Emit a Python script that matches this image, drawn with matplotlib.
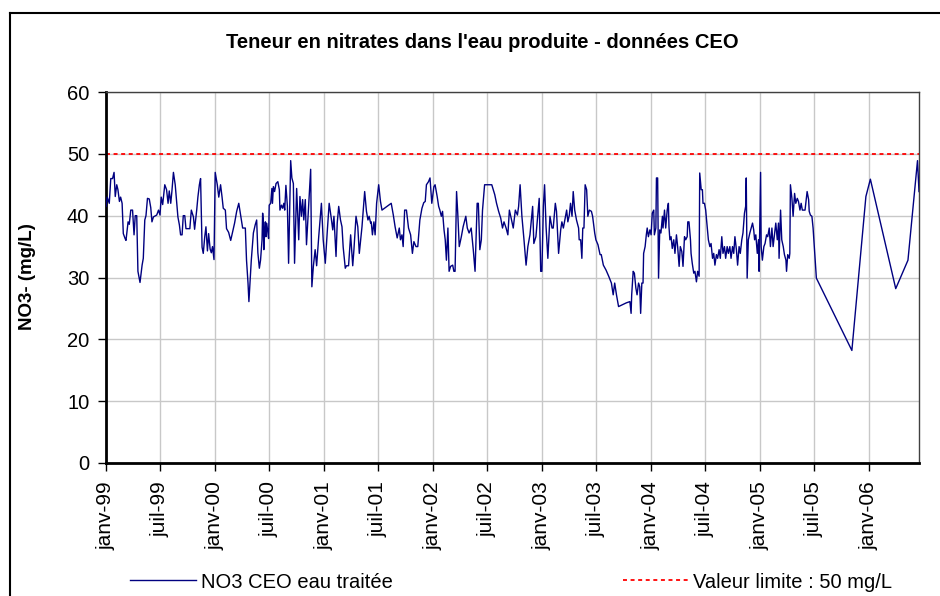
import datetime as dt
import matplotlib
matplotlib.use("Agg")
import matplotlib.pyplot as plt
import matplotlib.dates as mdates
from matplotlib.lines import Line2D

plt.rcParams['font.family'] = ['Liberation Sans', 'DejaVu Sans']

# Données : jours depuis le 1er janvier 1999 et teneur en nitrates (mg/L)
debut = dt.date(1999, 1, 1)

jours_1999 = [0, 4, 11, 16, 22, 27, 31, 36, 40, 45, 49, 54, 58, 64, 67, 74, 78, 83, 89, 94,
              98, 103, 107, 114, 121, 125, 130, 134, 139, 145, 150, 154, 159, 170, 176, 181,
              185, 190, 197, 203, 208, 212, 217, 221, 226, 232, 237, 241, 246, 250, 255, 259,
              264, 268, 281, 286, 293, 297, 304, 308, 313, 317, 322, 326, 331, 335, 340, 344,
              349, 353, 357, 362]
no3_1999 = [41.5, 43, 42, 46, 46, 47, 43.1, 45, 44.2, 42.3, 43, 42, 37.1, 36.3, 36, 39, 38.6,
            40.9, 40.9, 36.9, 40, 40, 31, 29.2, 32, 33.1, 39.3, 40, 42.8, 42.7, 41.3, 39, 39.8,
            40.1, 40.9, 40.1, 43, 41.8, 45, 44.2, 42, 44, 42, 44, 47, 45, 42, 39.8, 38.5, 36.9,
            36.9, 40, 40, 37.9, 37.9, 40.9, 39.8, 37.8, 40.9, 43, 45, 46, 34.9, 33.9, 36.6,
            38.2, 34.3, 37.1, 34.6, 34, 35, 32.9]

jours_2000 = [366, 373, 378, 384, 389, 393, 400, 404, 411, 418, 431, 438, 445, 451, 458, 467,
              471, 476, 479, 487, 494, 500, 505, 509, 514, 518, 523, 525, 527, 529, 532, 534,
              536, 538, 541, 545, 547, 552, 556, 558, 561, 565, 570, 576, 581, 583, 588, 592,
              596, 599, 603, 608, 612, 619, 623, 628, 632, 639, 646, 650, 655, 659, 663, 668,
              672, 679, 686, 690, 695, 701, 706, 713, 722]
no3_2000 = [47, 45, 43, 45, 43, 41.2, 40.9, 37.9, 37.3, 36.0, 38.8, 40.7, 42.0, 40.1, 38.0,
            38.0, 32.8, 29.1, 26.1, 32.8, 37.2, 38.5, 39.3, 34.0, 31.5, 32.8, 36.1, 40.4, 39.3,
            34.5, 37.7, 39.0, 36.6, 38.8, 37.9, 36.3, 41.7, 42.0, 44.4, 42.0, 44.7, 43.9, 45.2,
            45.5, 44.2, 40.9, 41.7, 41.2, 42.0, 40.9, 44.9, 41.5, 32.3, 48.9, 46.1, 45.2, 32.3,
            44.4, 36.1, 43.1, 39.9, 42.6, 39.3, 42.6, 35.3, 41.5, 47.5, 28.5, 31.8, 34.5, 31.9,
            36.6, 42.0]

jours_2001 = [728, 735, 742, 748, 755, 760, 764, 771, 775, 780, 786, 791, 795, 802, 806, 813,
              820, 827, 831, 838, 844, 849, 858, 867, 873, 878, 882, 887, 889, 893, 898, 902,
              907, 914, 920, 925, 956, 963, 969, 976, 983, 987, 992, 996, 1001, 1007, 1014,
              1021, 1027, 1032, 1039, 1045, 1052, 1059, 1065, 1070, 1074, 1081]
no3_2001 = [36.1, 32.3, 37.7, 42.0, 39.6, 37.7, 39.9, 33.4, 38.8, 41.5, 39.3, 38.2, 34.9, 31.5,
            31.9, 31.9, 36.9, 31.9, 34.5, 39.9, 38.2, 33.9, 38.2, 43.9, 40.7, 39.3, 39.9, 38.8,
            39.0, 36.9, 39.0, 36.9, 42.0, 45.0, 42.3, 40.9, 42.0, 40.1, 38.2, 36.4, 38.0, 36.1,
            36.9, 35.0, 40.9, 40.9, 38.0, 36.9, 33.9, 35.8, 35.0, 35.0, 39.3, 41.2, 42.1, 42.3,
            45.0, 45.5]

jours_2002 = [1086, 1092, 1099, 1103, 1110, 1115, 1119, 1124, 1128, 1133, 1137, 1141, 1146,
              1150, 1155, 1162, 1166, 1170, 1175, 1179, 1184, 1191, 1197, 1206, 1211, 1217,
              1224, 1231, 1237, 1244, 1248, 1253, 1258, 1262, 1269, 1293, 1303, 1309, 1316,
              1323, 1329, 1334, 1341, 1347, 1352, 1358, 1365, 1372, 1379, 1383, 1388, 1394,
              1401, 1408, 1414, 1421, 1430, 1434, 1441]
no3_2002 = [46.1, 42.0, 44.7, 45.0, 43.1, 41.5, 40.9, 39.9, 40.7, 37.7, 36.1, 32.8, 38.0, 31.0,
            31.8, 32.0, 31.0, 31.0, 43.9, 40.4, 35.0, 36.6, 38.2, 39.9, 38.0, 37.2, 38.0, 34.5,
            31.0, 42.0, 42.0, 34.5, 36.1, 40.9, 45.0, 45.0, 43.4, 42.0, 40.7, 39.6, 38.0, 39.0,
            38.0, 36.9, 40.9, 39.6, 38.0, 40.9, 40.1, 41.5, 45.0, 39.9, 36.1, 32.0, 35.0, 36.9,
            41.5, 35.5, 36.6]

jours_2003 = [1452, 1457, 1461, 1466, 1470, 1475, 1481, 1488, 1495, 1499, 1506, 1510, 1517,
              1524, 1528, 1533, 1539, 1544, 1548, 1553, 1557, 1562, 1566, 1571, 1577, 1584,
              1586, 1591, 1595, 1598, 1602, 1606, 1611, 1615, 1620, 1627, 1631, 1638, 1642,
              1649, 1656, 1660, 1667, 1676, 1685, 1694, 1700, 1705, 1711, 1718, 1744, 1756,
              1760, 1762, 1767, 1771, 1776, 1780, 1785, 1789, 1792, 1796, 1800, 1802, 1807]
no3_2003 = [42.8, 31.0, 31.0, 41.5, 45.0, 38.2, 33.1, 39.9, 38.0, 38.0, 42.0, 40.7, 33.9, 37.7,
            39.0, 38.0, 39.6, 40.9, 39.0, 40.1, 42.0, 39.9, 43.9, 40.9, 39.3, 38.0, 36.1, 36.1,
            33.1, 38.0, 38.0, 45.0, 44.2, 39.9, 40.9, 40.7, 39.9, 37.2, 36.1, 35.3, 33.7, 33.7,
            32.0, 31.2, 30.2, 29.1, 27.2, 29.1, 27.2, 25.3, 25.9, 26.1, 24.2, 27.2, 31.0, 30.7,
            28.3, 27.2, 29.1, 28.5, 24.2, 29.1, 29.1, 33.9, 35.0]

jours_2004 = [1811, 1814, 1818, 1823, 1827, 1831, 1836, 1838, 1843, 1845, 1849, 1852, 1856,
              1860, 1865, 1867, 1872, 1876, 1881, 1885, 1887, 1890, 1894, 1898, 1903, 1907,
              1912, 1916, 1921, 1925, 1930, 1934, 1939, 1943, 1948, 1950, 1954, 1959, 1961,
              1965, 1970, 1974, 1979, 1983, 1988, 1990, 1995, 1999, 2001, 2006, 2010, 2015,
              2019, 2024, 2028, 2033, 2037, 2041, 2046, 2050, 2055, 2059, 2064, 2068, 2073,
              2077, 2082, 2086, 2091, 2095, 2100, 2104, 2108, 2113, 2117, 2122, 2126, 2131,
              2135, 2140, 2144, 2146, 2149, 2153, 2158]
no3_2004 = [36.9, 38.0, 36.6, 37.7, 36.9, 40.4, 40.9, 36.9, 38.0, 46.1, 46.1, 29.9, 37.7, 37.2,
            39.9, 38.0, 40.9, 38.0, 40.9, 42.0, 38.2, 36.1, 36.6, 34.7, 36.1, 33.9, 36.9, 35.0,
            31.8, 35.0, 34.2, 31.8, 36.6, 36.1, 36.6, 39.0, 39.0, 36.1, 33.9, 32.3, 30.7, 31.0,
            29.3, 31.0, 30.2, 46.9, 44.2, 44.2, 42.0, 42.0, 40.9, 38.2, 36.1, 35.0, 35.5, 33.1,
            33.9, 32.0, 33.7, 33.1, 34.5, 33.1, 36.6, 33.9, 35.0, 33.1, 35.0, 33.9, 35.0, 33.1,
            35.0, 33.9, 36.6, 34.5, 32.0, 35.0, 33.9, 36.1, 37.2, 40.4, 41.5, 46.1, 29.9, 36.1,
            37.2]

jours_2005 = [2167, 2171, 2174, 2178, 2183, 2187, 2189, 2194, 2196, 2200, 2205, 2209, 2214,
              2218, 2223, 2227, 2232, 2236, 2241, 2245, 2250, 2254, 2256, 2261, 2265, 2270,
              2274, 2279, 2281, 2285, 2290, 2292, 2294, 2299, 2303, 2308, 2312, 2317, 2321,
              2326, 2330, 2334, 2343, 2350, 2355, 2357, 2361, 2366, 2370, 2381, 2500]
no3_2005 = [38.8, 37.7, 36.1, 36.9, 33.9, 36.1, 31.0, 47.0, 35.0, 32.8, 35.0, 35.5, 36.9, 36.6,
            38.0, 35.0, 38.0, 35.0, 37.2, 38.8, 36.1, 38.8, 33.1, 40.9, 36.1, 35.0, 33.7, 32.8,
            31.0, 33.7, 33.1, 33.9, 45.0, 42.8, 39.9, 43.6, 42.0, 42.8, 42.3, 40.9, 42.0, 40.9,
            40.9, 43.9, 42.6, 40.7, 40.1, 39.9, 38.0, 29.9, 18.2]

jours_2006 = [2547, 2562, 2647, 2688, 2720, 2725]
no3_2006 = [43.1, 45.9, 28.2, 32.8, 48.9, 43.9]

valeur_limite = 50
mois_fr = {1: 'janv', 7: 'juil'}

jours = (jours_1999 + jours_2000 + jours_2001 + jours_2002 + jours_2003 + jours_2004
         + jours_2005 + jours_2006)
no3 = no3_1999 + no3_2000 + no3_2001 + no3_2002 + no3_2003 + no3_2004 + no3_2005 + no3_2006
dates = [debut + dt.timedelta(days=j) for j in jours]

fig = plt.figure(figsize=(9.4, 5.96), dpi=100)
ax = fig.add_axes([106 / 940, 1 - 463 / 596, 813 / 940, 371 / 596])

ax.plot(dates, no3, color='#000080', lw=1.0, label='NO3 CEO eau traitée', zorder=3)
ax.plot([dates[0], dates[-1]], [valeur_limite, valeur_limite], color='#FF0000', lw=1.3,
        linestyle=(0, (2.2, 2.0)), label='Valeur limite : 50 mg/L', zorder=2)

ax.set_xlim(dates[0], dates[-1])
ax.set_ylim(0, 60)
ax.set_yticks(range(0, 61, 10))

ax.xaxis.set_major_locator(mdates.MonthLocator(bymonth=[1, 7]))
ax.xaxis.set_major_formatter(plt.FuncFormatter(
    lambda x, pos: '%s-%s' % (mois_fr[mdates.num2date(x).month], mdates.num2date(x).strftime('%y'))))

ax.grid(True, color='#C8C8C8', lw=1.0)
ax.set_axisbelow(True)
ax.tick_params(axis='both', direction='out', length=6, width=1, color='black')
ax.tick_params(axis='x', labelrotation=90, pad=7, labelsize=15)
ax.tick_params(axis='y', pad=6, labelsize=14.5)

for cote in ['left', 'bottom']:
    ax.spines[cote].set_linewidth(2)
    ax.spines[cote].set_color('black')
for cote in ['top', 'right']:
    ax.spines[cote].set_linewidth(1)
    ax.spines[cote].set_color('#404040')

fig.text(482.5 / 940, 1 - 42 / 596, "Teneur en nitrates dans l'eau produite - données CEO",
         ha='center', va='center', fontsize=14.5, fontweight='bold')
fig.text(28 / 940, 1 - 277 / 596, 'NO3- (mg/L)', rotation=90, ha='center', va='center',
         fontsize=13.5, fontweight='bold')

fig.legend(loc='center', bbox_to_anchor=(0.544, 14 / 596), ncol=2, frameon=False,
           fontsize=14.5, handlelength=3.25, handletextpad=0.26, columnspacing=11.4)

# cadre du graphique (coupé à droite et en bas)
fig.add_artist(Line2D([10 / 940, 10 / 940], [0, 1 - 13 / 596], color='black', lw=1.5,
                      transform=fig.transFigure))
fig.add_artist(Line2D([10 / 940, 1], [1 - 13 / 596, 1 - 13 / 596], color='black', lw=1.5,
                      transform=fig.transFigure))

fig.savefig('out.png', dpi=100)
